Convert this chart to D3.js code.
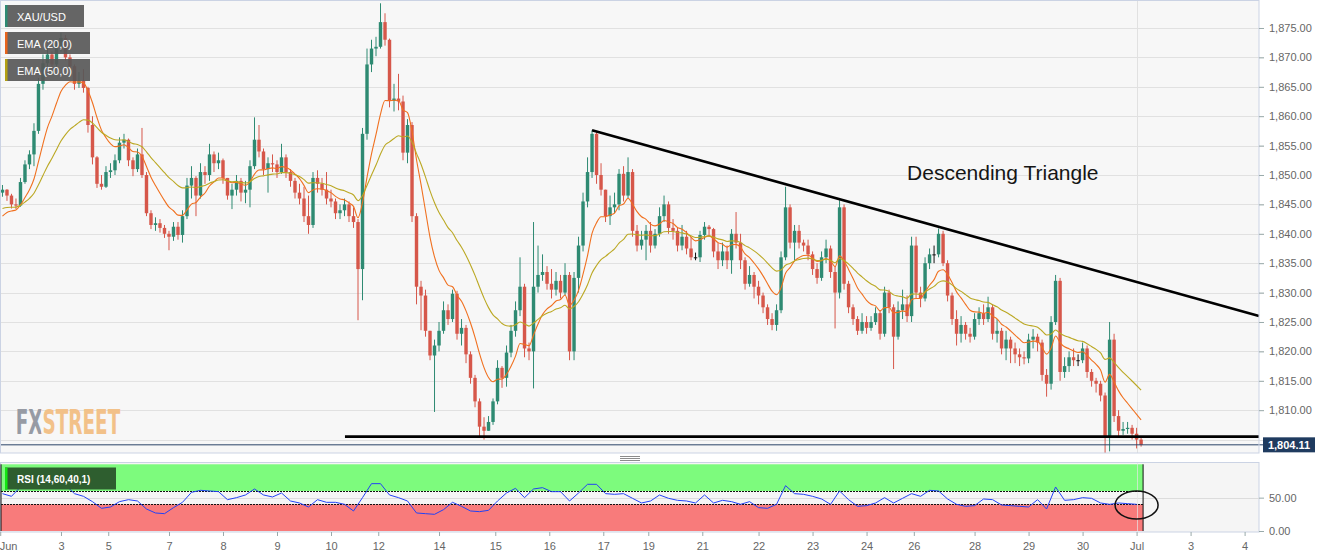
<!DOCTYPE html>
<html><head><meta charset="utf-8">
<script src="https://cdn.jsdelivr.net/npm/d3@7"></script>
<style>
body{margin:0;background:#fff;font-family:"Liberation Sans",Arial,sans-serif;}
svg{display:block}
</style>
</head><body>
<svg id="c" width="1331" height="558"></svg>
<script>
// ---------------- DATA ----------------
const symbol = "XAU/USD";
const barHours = 2;
const firstOpen = 1847.0;
const closes = [1847.5,1846.5,1845.0,1844.8,1848.8,1851.8,1853.5,1857.5,1865.5,1869.0,
1870.5,1868.8,1872.0,1873.3,1870.0,1868.5,1865.5,1866.0,1864.8,1858.5,
1853.0,1848.5,1848.0,1850.5,1850.8,1852.5,1855.5,1856.0,1852.5,1851.0,
1853.5,1850.0,1843.5,1841.5,1841.8,1841.0,1840.0,1839.5,1841.2,1839.8,
1843.0,1848.2,1849.5,1846.5,1850.5,1850.0,1853.5,1852.0,1852.5,1849.5,
1846.5,1847.5,1849.0,1847.0,1847.5,1851.5,1856.0,1854.0,1851.0,1852.0,
1851.8,1850.5,1853.0,1850.5,1849.0,1847.0,1846.0,1843.0,1841.5,1849.5,
1848.5,1847.5,1846.0,1845.5,1843.5,1844.0,1845.0,1843.0,1842.0,1834.0,
1857.0,1868.8,1871.5,1871.8,1876.0,1873.0,1862.6,1863.0,1862.5,1853.8,
1858.5,1843.0,1831.0,1829.5,1823.5,1819.3,1821.0,1823.5,1827.0,1825.5,
1829.8,1823.0,1824.0,1819.5,1815.5,1811.5,1807.2,1806.5,1808.0,1811.5,
1817.2,1815.5,1819.8,1823.5,1827.0,1831.0,1820.5,1820.0,1831.0,1833.0,
1833.5,1831.5,1830.5,1832.0,1830.0,1833.0,1820.0,1832.5,1838.0,1845.5,
1850.5,1857.0,1850.0,1847.5,1843.0,1844.5,1845.0,1850.2,1846.5,1850.5,
1840.5,1838.0,1839.0,1840.5,1838.0,1840.0,1843.0,1845.0,1841.0,1840.5,
1838.0,1839.5,1837.5,1836.0,1836.0,1839.8,1841.2,1840.8,1837.0,1835.5,
1837.0,1835.5,1840.0,1838.5,1835.5,1831.5,1833.0,1831.0,1829.5,1827.5,
1825.5,1824.5,1827.0,1836.0,1844.5,1838.5,1840.5,1838.5,1838.0,1836.5,
1834.0,1832.5,1836.0,1837.5,1833.5,1830.0,1844.5,1831.5,1827.5,1825.5,
1823.5,1825.0,1824.0,1825.0,1826.5,1823.0,1830.0,1827.5,1822.5,1827.0,
1828.0,1826.0,1838.0,1830.0,1829.0,1835.0,1836.5,1836.5,1840.0,1835.0,
1829.5,1825.5,1823.0,1824.5,1823.0,1822.5,1825.5,1826.5,1825.5,1827.5,
1823.0,1823.5,1820.5,1822.0,1820.5,1819.5,1819.0,1818.8,1822.0,1822.5,
1821.5,1816.0,1814.5,1825.0,1832.0,1816.5,1817.5,1819.0,1818.5,1818.5,
1820.5,1816.5,1815.0,1814.5,1812.5,1805.5,1822.0,1809.0,1806.5,1806.8,
1807.0,1806.0,1805.0,1804.11];
const highs = [1848.3,1847.6,1846.8,1846.0,1849.5,1852.5,1854.2,1858.8,1866.5,1870.5,
1872.0,1871.0,1873.0,1874.2,1873.8,1870.5,1868.8,1867.5,1868.0,1865.0,
1860.0,1853.2,1850.0,1851.5,1852.0,1853.5,1856.4,1857.0,1856.2,1853.0,
1854.5,1858.0,1850.5,1844.0,1842.8,1842.5,1841.5,1840.5,1842.0,1842.0,
1844.0,1849.5,1851.5,1849.8,1852.0,1851.5,1855.3,1854.0,1853.8,1852.8,
1849.5,1848.5,1850.0,1849.5,1849.0,1852.5,1859.8,1858.5,1854.5,1853.0,
1853.5,1852.5,1855.3,1853.5,1851.0,1849.5,1848.5,1848.0,1846.5,1850.5,
1850.8,1849.5,1850.5,1847.5,1846.0,1845.0,1846.0,1845.5,1844.5,1842.5,
1858.0,1871.5,1873.0,1873.5,1879.2,1877.5,1873.2,1865.5,1867.2,1863.5,
1859.5,1859.0,1843.5,1832.0,1830.5,1823.5,1822.0,1825.0,1828.5,1828.0,
1830.5,1830.3,1825.5,1824.5,1820.0,1816.0,1812.0,1808.8,1809.0,1812.0,
1818.5,1817.5,1821.0,1824.5,1828.5,1836.0,1831.5,1821.5,1842.0,1838.0,
1836.5,1834.5,1834.0,1833.5,1833.0,1835.0,1833.5,1833.5,1839.5,1847.0,
1853.0,1857.6,1857.3,1852.0,1847.5,1846.5,1847.0,1851.0,1851.5,1853.0,
1851.0,1841.5,1840.5,1841.5,1842.0,1840.8,1844.5,1846.5,1845.5,1842.5,
1841.0,1841.5,1840.5,1839.5,1836.8,1840.5,1842.0,1841.5,1841.0,1838.5,
1838.5,1838.0,1840.8,1843.7,1840.0,1836.0,1834.5,1833.5,1832.0,1830.0,
1828.0,1826.5,1828.0,1837.0,1848.0,1845.0,1841.5,1841.5,1839.0,1839.0,
1837.0,1835.0,1837.0,1839.0,1838.0,1834.5,1845.7,1845.0,1832.0,1828.0,
1826.0,1826.5,1826.0,1826.0,1827.5,1827.0,1831.0,1830.5,1828.0,1828.5,
1830.5,1829.5,1839.5,1839.5,1831.0,1836.0,1837.5,1838.0,1840.9,1840.5,
1835.5,1830.0,1827.0,1826.0,1825.0,1824.0,1826.5,1827.5,1828.0,1829.3,
1828.0,1825.5,1824.0,1823.5,1822.5,1821.5,1820.5,1820.0,1823.0,1823.8,
1823.0,1822.0,1817.0,1826.0,1833.0,1832.5,1819.0,1820.0,1820.5,1819.5,
1821.5,1821.0,1817.0,1815.5,1815.0,1813.0,1825.0,1823.0,1810.0,1808.0,
1808.0,1807.5,1807.0,1805.5];
const lows = [1846.3,1845.6,1844.3,1844.2,1844.6,1848.5,1851.0,1851.5,1857.0,1864.5,
1868.5,1867.5,1868.5,1871.0,1869.5,1867.8,1864.5,1864.8,1864.0,1857.2,
1851.8,1847.8,1847.5,1847.8,1849.5,1850.0,1852.0,1854.5,1851.5,1849.8,
1850.5,1849.5,1843.0,1840.8,1840.5,1840.2,1839.3,1837.2,1838.8,1839.0,
1838.5,1842.5,1846.0,1843.0,1846.0,1848.5,1849.0,1850.5,1851.0,1848.5,
1845.8,1844.2,1846.5,1845.5,1845.2,1844.5,1851.0,1853.0,1850.0,1847.0,
1850.5,1849.5,1850.2,1849.5,1848.0,1846.0,1845.0,1842.0,1840.0,1841.0,
1847.0,1846.5,1845.0,1844.5,1842.5,1842.5,1843.0,1842.0,1841.0,1825.3,
1828.7,1856.0,1867.5,1870.2,1871.5,1872.0,1861.5,1860.8,1861.0,1852.5,
1852.0,1842.0,1828.0,1823.6,1822.5,1818.5,1809.7,1820.0,1823.0,1824.5,
1825.0,1822.0,1821.0,1818.0,1814.5,1810.5,1805.4,1805.0,1806.5,1807.5,
1811.0,1813.8,1814.0,1819.0,1822.5,1826.0,1819.0,1818.5,1813.7,1830.0,
1832.0,1830.5,1829.0,1829.5,1829.0,1829.5,1818.5,1818.5,1830.0,1837.0,
1844.5,1849.5,1848.5,1846.5,1842.0,1841.5,1843.5,1844.0,1845.5,1846.0,
1839.5,1837.0,1837.3,1835.5,1836.8,1837.5,1839.5,1842.0,1840.0,1839.0,
1837.0,1837.2,1836.5,1835.5,1835.5,1835.2,1839.0,1839.5,1836.0,1834.0,
1834.5,1834.0,1833.2,1837.5,1834.0,1830.5,1831.0,1829.0,1828.0,1826.5,
1824.5,1823.6,1823.5,1826.5,1835.5,1837.5,1835.5,1837.5,1837.0,1835.5,
1833.0,1831.5,1832.0,1835.0,1832.5,1823.9,1829.0,1830.5,1826.5,1824.5,
1822.8,1823.0,1823.0,1823.5,1824.5,1822.0,1822.5,1826.5,1817.0,1822.0,
1825.5,1825.0,1825.0,1829.0,1827.5,1828.5,1834.0,1835.0,1836.0,1834.5,
1828.5,1824.5,1821.0,1821.5,1822.0,1821.5,1822.0,1824.5,1824.5,1825.0,
1822.0,1821.5,1819.5,1818.5,1818.0,1818.0,1817.5,1817.8,1818.0,1820.5,
1820.0,1815.0,1812.3,1813.5,1824.5,1815.0,1815.5,1816.5,1817.5,1817.5,
1818.0,1815.5,1814.0,1813.0,1811.5,1802.6,1803.0,1808.0,1805.5,1805.8,
1806.0,1805.0,1803.5,1803.8];

const emaPeriods = [20, 50];
const emaSeeds = [1843.0, 1844.3];
const emaLabels = ["EMA (20,0)", "EMA (50,0)"];

// RSI(14) read every 4 hours
const rsiHours = 4;
const rsiValues = [56,52,66,72,73,74,73,69,56,52,
44,34,36,44,47,45,33,27,26,35,
43,58,61,60,59,47,50,54,63,54,
51,57,45,42,36,47,43,43,40,30,
50,71,71,54,50,45,27,26,25,32,
43,37,30,29,31,45,57,64,50,63,
65,59,59,45,57,70,70,56,55,56,
49,42,45,54,49,46,45,42,54,42,
46,44,40,44,35,34,40,68,56,55,
52,48,40,60,47,37,38,42,50,42,
49,56,52,61,60,48,40,37,38,48,
47,39,38,37,36,47,33,66,46,47,
50,49,42,40,42,41,40];
const rsiLabel = "RSI (14,60,40,1)";
const rsiLevels = [40, 60];
const rsiTicks = [0, 50];

const priceGrid = [1805,1810,1815,1820,1825,1830,1835,1840,1845,1850,1855,1860,1865,1870,1875];
const priceTicks = [1810,1815,1820,1825,1830,1835,1840,1845,1850,1855,1860,1865,1870,1875];
const dayTickLabels = ["Jun","3","5","7","8","9","10","12","14","15","16","17","19","21","22","23","24","26","28","29","30","Jul","3","4"];
const dayTickHours = [-1,26,47,74,98,122,146,167,194,219,243,267,287,311,336,360,384,405,432,456,480,504,528,552];
const monthStartHours = [504];

const resistanceLine = [[262, 1857.6], [558.4, 1826.0]];
const supportLine = [[152.2, 1805.5], [558.4, 1805.5]];
const annotationText = "Descending Triangle";
const annotationPos = [402, 1850.5];
const rsiEllipse = {h: 504, v: 39};
const lastPrice = 1804.11;
const watermark = "FXSTREET";

// ---------------- LAYOUT ----------------
const svg = d3.select("#c");
const plotR = 1259;
const mainTop = 1, mainBot = 453;
const rsiTop = 463, rsiBot = 532;
const fontFam = '"Liberation Sans", Arial, sans-serif';

const x = d3.scaleLinear().domain([-1.1, 558.4]).range([0, plotR]);
const y = d3.scaleLinear().domain([1802.72, 1879.59]).range([mainBot, mainTop]);
const yr = d3.scaleLinear().domain([0, 100]).range([531, 464.3]);

const bars = closes.map((c, i) => {
  const o = i === 0 ? firstOpen : closes[i - 1];
  return {h: i * barHours, o, c, hi: Math.max(highs[i], o, c), lo: Math.min(lows[i], o, c)};
});
const lastH = bars[bars.length - 1].h;

// backgrounds
svg.append("rect").attr("width", 1331).attr("height", 558).attr("fill", "#fff");
svg.append("rect").attr("x", 0).attr("y", mainTop).attr("width", plotR).attr("height", mainBot - mainTop).attr("fill", "#f7f7f7");
svg.append("rect").attr("x", 0).attr("y", rsiTop).attr("width", plotR).attr("height", rsiBot - rsiTop).attr("fill", "#f5f5f5");

const defs = svg.append("defs");
defs.append("clipPath").attr("id", "mainClip").append("rect").attr("x", 0).attr("y", mainTop).attr("width", plotR).attr("height", mainBot - mainTop);
const wg = defs.append("linearGradient").attr("id", "wmGrad").attr("gradientUnits", "userSpaceOnUse")
  .attr("x1", 15.7).attr("x2", 120.2).attr("y1", 0).attr("y2", 0);
wg.append("stop").attr("offset", 0).attr("stop-color", "#979ba4");
wg.append("stop").attr("offset", 0.245).attr("stop-color", "#979ba4");
wg.append("stop").attr("offset", 0.245).attr("stop-color", "#f2c189");
wg.append("stop").attr("offset", 1).attr("stop-color", "#f2c189");

// grid
const grid = svg.append("g").attr("shape-rendering", "crispEdges");
grid.selectAll("line.h").data(priceGrid).join("line")
  .attr("x1", 0).attr("x2", plotR + 5).attr("y1", d => Math.round(y(d)) + 0.5).attr("y2", d => Math.round(y(d)) + 0.5)
  .attr("stroke", "#e1e1e1");
grid.selectAll("line.v").data(monthStartHours).join("line")
  .attr("x1", d => Math.round(x(d)) + 0.5).attr("x2", d => Math.round(x(d)) + 0.5)
  .attr("y1", mainTop).attr("y2", mainBot).attr("stroke", "#e1e1e1");

// watermark (single text, two-colour fill)
svg.append("text").attr("x", 15.7).attr("y", 433.5)
  .attr("font-family", '"DejaVu Sans Condensed","DejaVu Sans",sans-serif').attr("font-weight", "bold")
  .attr("font-size", 34).attr("textLength", 104.5).attr("lengthAdjust", "spacingAndGlyphs")
  .attr("fill", "url(#wmGrad)").text(watermark);

// candles
const up = "#2e8a72", dn = "#d6574a";
const cg = svg.append("g").attr("clip-path", "url(#mainClip)");
const colorOf = b => Math.abs(b.c - b.o) < 0.05 ? "#111" : (b.c > b.o ? up : dn);
cg.selectAll("line.w").data(bars).join("line")
  .attr("x1", b => x(b.h)).attr("x2", b => x(b.h))
  .attr("y1", b => y(b.hi)).attr("y2", b => y(b.lo))
  .attr("stroke", colorOf).attr("stroke-width", 1);
const bw = (x(barHours) - x(0)) * 0.76;
cg.selectAll("rect.b").data(bars).join("rect")
  .attr("x", b => x(b.h) - bw / 2).attr("width", bw)
  .attr("y", b => y(Math.max(b.o, b.c)))
  .attr("height", b => Math.max(1, Math.abs(y(b.o) - y(b.c))))
  .attr("fill", colorOf);

// EMAs
function ema(period, seed) {
  const k = 2 / (period / barHours + 1);
  let e = seed;
  return bars.map((b, i) => { if (i > 0) e = b.c * k + e * (1 - k); return {h: b.h, v: e}; });
}
const emaColors = ["#f0701f", "#bba823"];
emaPeriods.forEach((p, k) => {
  cg.append("path").datum(ema(p, emaSeeds[k]))
    .attr("fill", "none").attr("stroke", emaColors[k]).attr("stroke-width", 1.1)
    .attr("d", d3.line().x(d => x(d.h)).y(d => y(d.v)).curve(d3.curveMonotoneX));
});

// trend lines
const tl = d3.line().x(d => x(d[0])).y(d => y(d[1]));
svg.append("path").datum(resistanceLine).attr("d", tl).attr("stroke", "#000").attr("stroke-width", 2.6).attr("fill", "none");
svg.append("path").datum(supportLine).attr("d", tl).attr("stroke", "#000").attr("stroke-width", 2.6).attr("fill", "none");
svg.append("text").attr("x", x(annotationPos[0])).attr("y", y(annotationPos[1]))
  .attr("dominant-baseline", "central").attr("font-family", fontFam).attr("font-size", 21)
  .attr("fill", "#151515").text(annotationText);

// last price line
svg.append("line").attr("x1", 0).attr("x2", 1263).attr("y1", y(lastPrice)).attr("y2", y(lastPrice))
  .attr("stroke", "#2b4468").attr("stroke-width", 1);

// panel borders
const bc = "#cbd3e4";
svg.append("rect").attr("x", 0.5).attr("y", 0.5).attr("width", plotR - 0.5).attr("height", mainBot - 0.5)
  .attr("fill", "none").attr("stroke", bc);
svg.append("rect").attr("x", 0.5).attr("y", rsiTop - 0.5).attr("width", plotR - 0.5).attr("height", rsiBot - rsiTop + 0.5)
  .attr("fill", "none").attr("stroke", bc);

// price axis
const ya = svg.append("g").attr("transform", `translate(${plotR},0)`)
  .call(d3.axisRight(y).tickValues(priceTicks).tickSize(5).tickPadding(5).tickFormat(d3.format(",.2f")));
ya.select(".domain").remove();
ya.selectAll("line").attr("stroke", "#9aa");
ya.selectAll("text").attr("fill", "#666").attr("font-size", 11).attr("font-family", fontFam);

// last price tag
const lp = svg.append("g");
lp.append("rect").attr("x", 1263).attr("y", y(lastPrice) - 7.5).attr("width", 52).attr("height", 15).attr("fill", "#1f3b5f");
lp.append("text").attr("x", 1289).attr("y", y(lastPrice)).attr("dominant-baseline", "central").attr("text-anchor", "middle")
  .attr("fill", "#fff").attr("font-weight", "bold").attr("font-size", 11).attr("font-family", fontFam)
  .text(d3.format(",.2f")(lastPrice));

// legend
const leg = svg.append("g").attr("font-family", fontFam);
const legItems = [{t: symbol, c: up, w: 79}, {t: emaLabels[0], c: "#e8641c", w: 85}, {t: emaLabels[1], c: "#b3a012", w: 85}];
legItems.forEach((d, i) => {
  const yy = 5 + i * 27;
  leg.append("rect").attr("x", 5).attr("y", yy).attr("width", d.w).attr("height", 22).attr("fill", "rgba(88,88,88,0.92)");
  leg.append("rect").attr("x", 5).attr("y", yy).attr("width", 2.5).attr("height", 22).attr("fill", d.c);
  leg.append("text").attr("x", 17).attr("y", yy + 11.5).attr("dominant-baseline", "central")
    .attr("fill", "#fff").attr("font-size", 11).text(d.t);
});

// panel divider handle
[456.5, 458.5, 460.5].forEach(v => svg.append("line").attr("x1", 620).attr("x2", 640).attr("y1", v).attr("y2", v).attr("stroke", "#8c8c8c"));

// ---------------- RSI PANEL ----------------
const bandEnd = x(lastH) + 2;
const rg = svg.append("g");
rg.append("rect").attr("x", 1).attr("y", yr(100)).attr("width", bandEnd - 1).attr("height", yr(60) - yr(100)).attr("fill", "#7dfb7d");
rg.append("rect").attr("x", 1).attr("y", yr(40)).attr("width", bandEnd - 1).attr("height", yr(0) - yr(40)).attr("fill", "#f87b7b");
rg.selectAll("line.g").data([50]).join("line").attr("x1", 0).attr("x2", plotR)
  .attr("y1", d => Math.round(yr(d)) + 0.5).attr("y2", d => Math.round(yr(d)) + 0.5).attr("stroke", "#dcdcdc");
rg.selectAll("line.m").data(monthStartHours).join("line")
  .attr("x1", d => Math.round(x(d)) + 0.5).attr("x2", d => Math.round(x(d)) + 0.5)
  .attr("y1", rsiTop).attr("y2", rsiBot).attr("stroke", "#e6e6e6").attr("stroke-opacity", 0.7);
rg.selectAll("line.l").data(rsiLevels).join("line").attr("x1", 1).attr("x2", bandEnd)
  .attr("y1", d => Math.round(yr(d)) + 0.5).attr("y2", d => Math.round(yr(d)) + 0.5)
  .attr("stroke", "#111").attr("stroke-dasharray", "2,1");
[1, bandEnd].forEach(xx => rg.append("line").attr("x1", xx).attr("x2", xx).attr("y1", yr(100)).attr("y2", yr(0)).attr("stroke", "#111"));

rg.append("path").datum(rsiValues)
  .attr("d", d3.line().x((d, j) => x(j * rsiHours)).y(d => yr(d)))
  .attr("fill", "none").attr("stroke", "#2342f5").attr("stroke-width", 1);

rg.append("ellipse").attr("cx", x(rsiEllipse.h)).attr("cy", yr(rsiEllipse.v)).attr("rx", 21.5).attr("ry", 14)
  .attr("fill", "none").attr("stroke", "#111").attr("stroke-width", 1.5);

// RSI label
rg.append("rect").attr("x", 5).attr("y", 467.5).attr("width", 111).attr("height", 22).attr("fill", "#2e5e2f");
rg.append("rect").attr("x", 5).attr("y", 467.5).attr("width", 2.5).attr("height", 22).attr("fill", "#12e612");
rg.append("text").attr("x", 17).attr("y", 479).attr("dominant-baseline", "central").attr("fill", "#fff")
  .attr("font-weight", "bold").attr("font-size", 10).attr("font-family", fontFam).text(rsiLabel);

const ra = svg.append("g").attr("transform", `translate(${plotR},0)`)
  .call(d3.axisRight(yr).tickValues(rsiTicks).tickSize(5).tickPadding(5).tickFormat(d3.format(".2f")));
ra.select(".domain").remove();
ra.selectAll("line").attr("stroke", "#9aa");
ra.selectAll("text").attr("fill", "#666").attr("font-size", 11).attr("font-family", fontFam);

// x axis
const xa = svg.append("g").attr("transform", `translate(0,${rsiBot})`)
  .call(d3.axisBottom(x).tickValues(dayTickHours).tickSize(4).tickPadding(6).tickFormat((d, i) => dayTickLabels[i]));
xa.select(".domain").remove();
xa.selectAll("line").attr("stroke", "#9aa");
xa.selectAll("text").attr("fill", "#666").attr("font-size", 11).attr("font-family", fontFam);
xa.selectAll(".tick").filter((d, i) => i === 0).select("text").attr("text-anchor", "start").attr("x", -1);
</script>
</body></html>
